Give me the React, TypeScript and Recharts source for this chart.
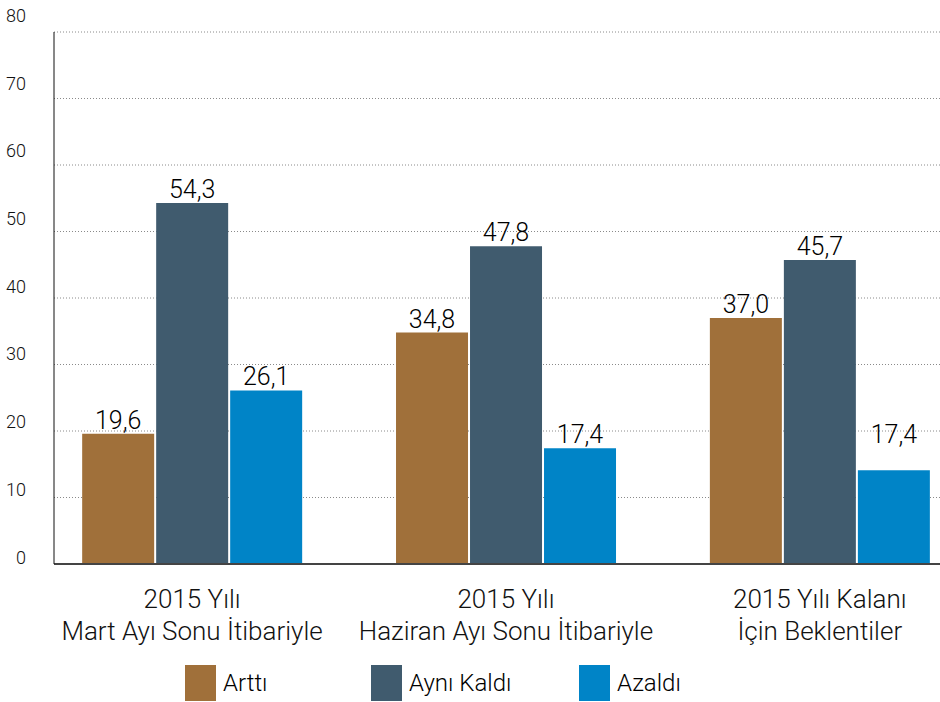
import React from 'react';
import { BarChart, Bar, XAxis, YAxis, CartesianGrid, LabelList, Legend } from 'recharts';

const categoryLine1 = ['2015 Yılı', '2015 Yılı', '2015 Yılı Kalanı'];
const categoryLine2 = ['Mart Ayı Sonu İtibariyle', 'Haziran Ayı Sonu İtibariyle', 'İçin Beklentiler'];
const categoryPos = [0, 1, 2];

const seriesNames = ['Arttı', 'Aynı Kaldı', 'Azaldı'];
const arttiValues = [19.6, 34.8, 37.0];
const ayniValues = [54.3, 47.8, 45.7];
const azaldiValues = [26.1, 17.4, 14.1];
const arttiLabels = ['19,6', '34,8', '37,0'];
const ayniLabels = ['54,3', '47,8', '45,7'];
const azaldiLabels = ['26,1', '17,4', '17,4'];
const yTicks = [0, 10, 20, 30, 40, 50, 60, 70, 80];

const colors = ['#A0703A', '#405B6E', '#0084C7'];
const FONT = 'Roboto, "DejaVu Sans", sans-serif';

const data = categoryPos.map((x, i) => ({
  x,
  a: arttiValues[i],
  b: ayniValues[i],
  c: azaldiValues[i],
  la: arttiLabels[i],
  lb: ayniLabels[i],
  lc: azaldiLabels[i],
}));

const YTick = (props: any) => {
  const { y, payload } = props;
  const v = payload.value as number;
  return (
    <text x={26} y={y - (7 + v * 0.12)} textAnchor="end" dominantBaseline="central"
      fontFamily={FONT} fontSize={18} fontWeight={300} fill="#111">
      {v}
    </text>
  );
};

const XTick = (props: any) => {
  const { x, y, payload } = props;
  const i = categoryPos.indexOf(payload.value);
  return (
    <g>
      <text x={x} y={y + 27} textAnchor="middle" dominantBaseline="central" fontFamily={FONT} fontSize={26} fontWeight={300} fill="#111">
        {categoryLine1[i]}
      </text>
      <text x={x} y={y + 59} textAnchor="middle" dominantBaseline="central" fontFamily={FONT} fontSize={26} fontWeight={300} fill="#111">
        {categoryLine2[i]}
      </text>
    </g>
  );
};

const makeLabel = (values: number[]) => (props: any) => {
  const { x, y, width, height, value, index } = props;
  const bottom = y + height;
  const pxPerUnit = height / values[index];
  const num = parseFloat(String(value).replace(',', '.'));
  const top = Math.min(y, bottom - num * pxPerUnit);
  return (
    <text x={x + width / 2} y={top - 5} textAnchor="middle" fontFamily={FONT} fontSize={25} fontWeight={300} fill="#000">
      {value}
    </text>
  );
};

const legendX = [185, 371, 579];

const LegendContent = () => (
  <div style={{ position: 'relative', height: 0, width: 940 }}>
    {seriesNames.map((n, i) => (
      <div key={n} style={{ position: 'absolute', left: legendX[i], top: 0, display: 'flex', alignItems: 'center' }}>
        <div style={{ width: 31, height: 36, background: colors[i] }} />
        <span style={{ marginLeft: 7, fontFamily: FONT, fontSize: 24, fontWeight: 300, color: '#000', whiteSpace: 'nowrap' }}>{n}</span>
      </div>
    ))}
  </div>
);

export default function App() {
  return (
    <div style={{ position: 'absolute', left: 0, top: 0, background: '#fff' }}>
      <BarChart width={940} height={702} data={data} margin={{ top: 32, right: 0, left: 0, bottom: 58 }}
        barGap={2} barSize={72}>
        <CartesianGrid vertical={false} stroke="#8a8a8a" strokeDasharray="1 2" />
        <XAxis dataKey="x" type="number" domain={[-0.44, 2.383]} allowDataOverflow ticks={categoryPos}
          tick={<XTick />} tickLine={false} axisLine={{ stroke: '#444', strokeWidth: 2 }} height={80} interval={0} />
        <YAxis width={54} domain={[0, 80]} ticks={yTicks} tick={<YTick />} tickLine={false}
          axisLine={{ stroke: '#111', strokeWidth: 1 }} />
        <Legend content={<LegendContent />} wrapperStyle={{ left: 0, top: 665, width: 940, height: 0 }} />
        <Bar dataKey="a" name={seriesNames[0]} fill={colors[0]} isAnimationActive={false}>
          <LabelList dataKey="la" content={makeLabel(arttiValues)} />
        </Bar>
        <Bar dataKey="b" name={seriesNames[1]} fill={colors[1]} isAnimationActive={false}>
          <LabelList dataKey="lb" content={makeLabel(ayniValues)} />
        </Bar>
        <Bar dataKey="c" name={seriesNames[2]} fill={colors[2]} isAnimationActive={false}>
          <LabelList dataKey="lc" content={makeLabel(azaldiValues)} />
        </Bar>
      </BarChart>
    </div>
  );
}
